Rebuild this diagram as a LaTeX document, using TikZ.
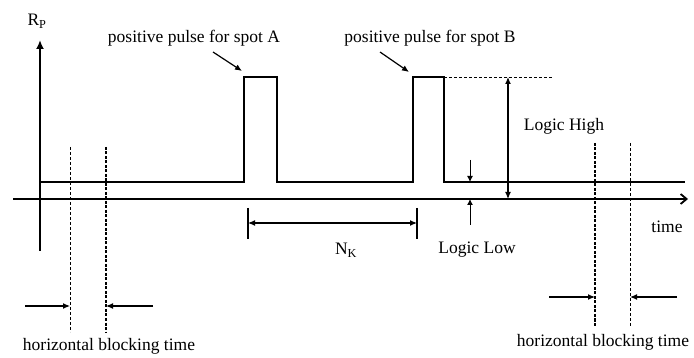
\documentclass[tikz,border=0pt]{standalone}
\usepackage{fontspec}
\setmainfont{Liberation Serif}
\usetikzlibrary{arrows.meta}
\begin{document}
\begin{tikzpicture}[x=1pt,y=-1pt,
  lbl/.style={font=\fontsize{17.5}{20}\selectfont, inner sep=0pt},
  axis/.style={line width=1.8pt},
  sig/.style={line width=1.4pt},
  arr/.style={line width=1.2pt,-{Latex[length=7pt,width=6pt]}},
  darr/.style={line width=1.2pt,{Latex[length=7pt,width=6pt]}-{Latex[length=7pt,width=6pt]}},
  thin dash/.style={line width=0.9pt,dash pattern=on 3pt off 2pt},
  thick dash/.style={line width=1.6pt,dash pattern=on 3pt off 1.5pt}]
\useasboundingbox (0,0) rectangle (694,358);
\fill[white] (0,0) rectangle (694,358);
% axes
\coordinate (vb) at (40,251);
\coordinate (vt) at (40,40);
\draw[axis,-{Latex[length=9pt,width=8pt]}] (vb) -- (vt);
\coordinate (hl) at (13,199);
\coordinate (hr) at (688,199);
\draw[axis,-{Straight Barb[length=6pt,width=10pt]}] (hl) -- (hr);
\node[lbl] (rp) at (37,21) {R\textsubscript{P}};
\node[lbl] (time) at (667,227) {time};
% signal
\draw[sig] (40,182) -- (244,182) -- (244,77) -- (277,77) -- (277,182) -- (413,182) -- (413,77) -- (444,77) -- (444,182) -- (685,182);
\coordinate (dhs) at (444,77);
\coordinate (dhe) at (553,77);
\draw[thin dash] (dhs) -- (dhe);
% pulse labels
\node[lbl] (pa) at (194,38) {positive pulse for spot A};
\node[lbl] (pb) at (430,38) {positive pulse for spot B};
\coordinate (pa1) at (213,52);
\coordinate (pa2) at (242,71);
\draw[arr] (pa1) -- (pa2);
\coordinate (pb1) at (380,52);
\coordinate (pb2) at (409,72);
\draw[arr] (pb1) -- (pb2);
% logic high
\coordinate (lht) at (508,77);
\coordinate (lhb) at (508,199);
\draw[darr] (lht) -- (lhb);
\node[lbl] (lh) at (564,126) {Logic High};
% logic low
\coordinate (ll1) at (470,160);
\coordinate (ll2) at (470,182);
\draw[line width=1pt,-{Latex[length=6pt,width=6pt]}] (ll1) -- (ll2);
\coordinate (ll3) at (470,225);
\coordinate (ll4) at (470,199);
\draw[line width=1pt,-{Latex[length=6pt,width=6pt]}] (ll3) -- (ll4);
\node[lbl] (ll) at (477,250) {Logic Low};
% N_K
\coordinate (nk1) at (248,223);
\coordinate (nk2) at (417,223);
\draw[line width=1.2pt] (248,208) -- (248,239);
\draw[line width=1.2pt] (417,208) -- (417,239);
\draw[darr] (nk1) -- (nk2);
\node[lbl] (nk) at (346,250) {N\textsubscript{K}};
% left blocking
\draw[thin dash] (70,147) -- (70,332);
\draw[thick dash] (106,147) -- (106,332);
\coordinate (lb1) at (25,306);
\coordinate (lb2) at (70,306);
\coordinate (lb3) at (153,306);
\coordinate (lb4) at (106,306);
\draw[arr] (lb1) -- (lb2);
\draw[arr] (lb3) -- (lb4);
\node[lbl] (hbl) at (109,346) {horizontal blocking time};
% right blocking
\draw[thick dash] (595,143) -- (595,327);
\draw[thin dash] (630,143) -- (630,327);
\coordinate (rb1) at (549,297);
\coordinate (rb2) at (595,297);
\coordinate (rb3) at (677,297);
\coordinate (rb4) at (630,297);
\draw[arr] (rb1) -- (rb2);
\draw[arr] (rb3) -- (rb4);
\node[lbl] (hbr) at (603,342) {horizontal blocking time};
\end{tikzpicture}
\end{document}
